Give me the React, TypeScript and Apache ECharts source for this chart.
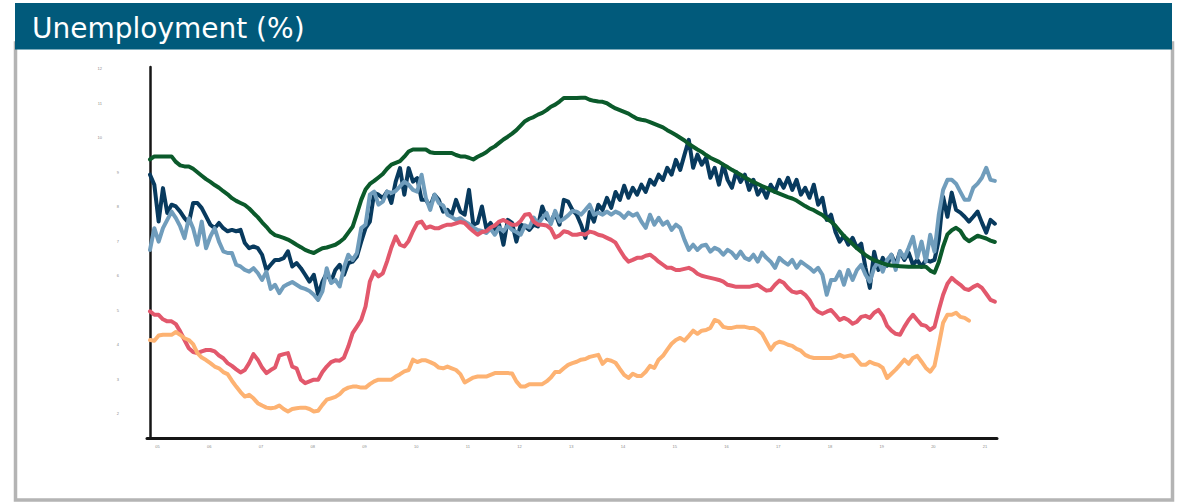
import React, { useEffect, useRef } from "react";
import * as echarts from "echarts";

const TITLE = "Unemployment (%)";
const START_YEAR = 2005;
const Y_TICKS = [2, 3, 4, 5, 6, 7, 8, 9, 10, 11, 12];
const X_TICK_MONTHS = [0, 12, 24, 36, 48, 60, 72, 84, 96, 108, 120, 132, 144, 156, 168, 180, 192];

const navy = [
  8.93, 8.64, 7.57, 8.54, 7.82, 8.06, 8.01, 7.86, 7.67, 7.53,
  8.11, 8.11, 7.96, 7.72, 7.48, 7.38, 7.53, 7.38, 7.29, 7.33,
  7.29, 7.33, 6.95, 6.80, 6.85, 6.80, 6.61, 6.17, 6.32, 6.46,
  6.46, 6.51, 6.71, 6.27, 6.37, 6.22, 6.03, 5.83, 6.03, 5.45,
  5.83, 6.08, 5.83, 6.17, 6.32, 6.03, 6.37, 6.41, 6.56, 6.99,
  7.38, 7.57, 8.40, 8.35, 8.25, 8.44, 8.11, 8.73, 9.12, 8.35,
  9.12, 8.73, 8.83, 8.20, 8.20, 8.01, 8.35, 8.20, 7.86, 7.91,
  7.77, 8.20, 7.86, 7.77, 8.49, 7.48, 7.53, 8.01, 7.38, 7.53,
  7.29, 7.48, 6.90, 7.62, 7.53, 6.99, 7.48, 7.43, 7.33, 7.48,
  7.43, 8.01, 7.67, 7.57, 7.82, 7.48, 8.20, 8.15, 7.91,
  7.77, 7.48, 7.10, 7.85, 7.57, 8.06, 7.91, 8.26, 7.97, 8.43,
  8.20, 8.61, 8.26, 8.55, 8.35, 8.64, 8.43, 8.78, 8.64, 8.93,
  8.78, 9.13, 8.93, 9.36, 9.07, 9.51, 9.94, 9.13, 9.51, 9.22,
  9.42, 8.84, 9.13, 8.64, 9.22, 8.78, 8.55, 9.01, 8.72, 8.93,
  8.49, 8.78, 8.35, 8.55, 8.26, 8.64, 8.43, 8.78, 8.55, 8.84,
  8.49, 8.78, 8.35, 8.55, 8.26, 8.64, 8.06, 8.26, 7.62, 7.77,
  7.28, 6.99, 7.16, 6.90, 7.10, 6.81, 6.93, 6.23, 5.65, 6.70,
  6.17, 6.52, 6.29, 6.61, 6.32, 6.70, 6.46, 6.67, 6.32, 6.46,
  6.26, 6.46, 6.41, 6.46, 7.04, 8.29, 7.71, 8.41, 7.91, 7.83,
  7.71, 7.57, 7.71, 7.86, 7.54, 7.25, 7.62, 7.51,
];

const lightBlue = [
  6.75, 7.38, 6.99, 7.38, 7.62, 7.86, 7.67, 7.43, 7.09, 7.67,
  7.38, 6.90, 7.57, 6.80, 7.14, 7.38, 6.99, 6.71, 6.66, 6.66,
  6.32, 6.27, 6.17, 6.12, 6.22, 6.08, 5.88, 6.12, 5.62, 5.74,
  5.50, 5.69, 5.76, 5.82, 5.74, 5.66, 5.62, 5.56, 5.45, 5.30,
  5.55, 6.22, 5.79, 5.88, 5.69, 6.24, 6.61, 6.46, 6.66, 7.38,
  7.48, 8.35, 8.44, 8.06, 8.15, 8.44, 8.40, 8.46, 8.59, 8.73,
  8.64, 8.49, 8.44, 8.93, 8.25, 7.91, 8.35, 8.11, 8.04, 7.77,
  7.70, 7.62, 7.67, 7.57, 7.50, 7.40, 7.33, 7.30, 7.24, 7.36,
  7.19, 7.40, 7.29, 7.46, 7.33, 7.27, 7.19, 7.46, 7.40, 7.69,
  7.50, 7.67, 7.82, 7.50, 7.88, 7.57, 7.65, 7.75, 7.88,
  7.86, 7.77, 7.91, 8.06, 7.77, 7.83, 7.77, 7.86, 7.77, 7.86,
  7.80, 7.68, 7.83, 7.74, 7.80, 7.57, 7.39, 7.77, 7.48, 7.68,
  7.48, 7.57, 7.33, 7.48, 7.39, 7.04, 6.75, 6.90, 6.75, 6.87,
  6.90, 6.70, 6.81, 6.75, 6.61, 6.75, 6.67, 6.52, 6.70, 6.52,
  6.46, 6.61, 6.41, 6.67, 6.52, 6.41, 6.23, 6.52, 6.41, 6.32,
  6.46, 6.23, 6.41, 6.32, 6.23, 6.12, 6.23, 6.03, 5.45, 5.88,
  5.88, 6.12, 5.74, 6.17, 5.88, 6.17, 6.32, 6.03, 5.83, 6.23,
  6.41, 6.12, 6.46, 6.61, 6.17, 6.72, 6.52, 6.81, 7.13, 6.52,
  6.99, 6.41, 7.19, 6.70, 7.77, 8.49, 8.78, 8.78, 8.67, 8.43,
  8.20, 8.20, 8.55, 8.67, 8.84, 9.13, 8.78, 8.75,
];

const green = [
  9.37, 9.46, 9.46, 9.46, 9.46, 9.46, 9.30, 9.20, 9.17, 9.17,
  9.10, 9.00, 8.90, 8.80, 8.72, 8.63, 8.55, 8.45, 8.36, 8.25,
  8.17, 8.11, 8.05, 7.95, 7.82, 7.70, 7.55, 7.42, 7.27, 7.18,
  7.14, 7.10, 7.05, 6.98, 6.90, 6.83, 6.75, 6.70, 6.66, 6.73,
  6.80, 6.82, 6.86, 6.90, 6.98, 7.08, 7.25, 7.42, 7.80, 8.20,
  8.50, 8.66, 8.75, 8.85, 8.95, 9.10, 9.22, 9.27, 9.32, 9.45,
  9.60, 9.66, 9.66, 9.66, 9.66, 9.58, 9.56, 9.56, 9.56, 9.56,
  9.56, 9.50, 9.46, 9.46, 9.42, 9.37, 9.45, 9.51, 9.58, 9.68,
  9.75, 9.85, 9.95, 10.03, 10.12, 10.22, 10.35, 10.48, 10.55, 10.60,
  10.67, 10.72, 10.80, 10.90, 10.96, 11.05, 11.15, 11.15, 11.15,
  11.15, 11.16, 11.16, 11.10, 11.07, 11.05, 11.04, 11.00, 10.92, 10.85,
  10.80, 10.75, 10.70, 10.62, 10.55, 10.52, 10.50, 10.45, 10.40, 10.35,
  10.30, 10.22, 10.15, 10.08, 10.00, 9.92, 9.82, 9.74, 9.66, 9.59,
  9.50, 9.42, 9.36, 9.30, 9.22, 9.15, 9.07, 9.00, 8.93, 8.85,
  8.78, 8.72, 8.66, 8.60, 8.55, 8.49, 8.43, 8.38, 8.33, 8.28,
  8.24, 8.18, 8.10, 8.02, 7.95, 7.90, 7.83, 7.76, 7.65, 7.57,
  7.45, 7.30, 7.15, 7.04, 6.92, 6.80, 6.70, 6.60, 6.52, 6.45,
  6.41, 6.36, 6.32, 6.30, 6.29, 6.28, 6.27, 6.26, 6.26, 6.26,
  6.26, 6.26, 6.15, 6.09, 6.40, 6.85, 7.20, 7.32, 7.39, 7.30,
  7.10, 7.00, 7.08, 7.16, 7.12, 7.08, 7.02, 6.98,
];

const red = [
  4.97, 4.87, 4.87, 4.74, 4.68, 4.68, 4.60, 4.39, 4.14, 3.90,
  3.79, 3.76, 3.81, 3.85, 3.85, 3.81, 3.69, 3.61, 3.47, 3.39,
  3.29, 3.20, 3.27, 3.47, 3.73, 3.57, 3.34, 3.18, 3.27, 3.34,
  3.69, 3.73, 3.76, 3.37, 3.32, 2.99, 2.89, 2.94, 2.99, 2.99,
  3.21, 3.37, 3.50, 3.55, 3.54, 3.63, 3.95, 4.34, 4.53, 4.72,
  5.11, 5.83, 6.12, 5.98, 6.07, 6.42, 6.82, 7.14, 6.90, 6.85,
  7.01, 7.29, 7.53, 7.57, 7.38, 7.43, 7.38, 7.38, 7.44, 7.48,
  7.48, 7.52, 7.56, 7.53, 7.40, 7.29, 7.19, 7.27, 7.29, 7.40,
  7.46, 7.57, 7.62, 7.55, 7.48, 7.48, 7.59, 7.77, 7.79, 7.57,
  7.48, 7.48, 7.46, 7.36, 7.11, 7.17, 7.29, 7.26, 7.19,
  7.19, 7.22, 7.19, 7.28, 7.25, 7.19, 7.16, 7.10, 7.04, 6.96,
  6.75, 6.55, 6.41, 6.46, 6.52, 6.52, 6.58, 6.61, 6.52, 6.41,
  6.32, 6.23, 6.23, 6.17, 6.17, 6.20, 6.23, 6.17, 6.06, 6.00,
  5.97, 5.94, 5.91, 5.88, 5.83, 5.74, 5.71, 5.68, 5.68, 5.68,
  5.68, 5.71, 5.74, 5.65, 5.57, 5.59, 5.74, 5.86, 5.80, 5.65,
  5.54, 5.51, 5.54, 5.45, 5.30, 5.07, 4.96, 4.90, 4.96, 5.01,
  4.87, 4.72, 4.78, 4.72, 4.61, 4.67, 4.81, 4.84, 4.78, 4.93,
  5.01, 4.84, 4.55, 4.41, 4.32, 4.29, 4.52, 4.72, 4.87, 4.72,
  4.58, 4.55, 4.43, 4.52, 5.01, 5.45, 5.77, 5.94, 5.83, 5.74,
  5.62, 5.59, 5.68, 5.74, 5.65, 5.48, 5.30, 5.25,
];

const orange = [
  4.14, 4.12, 4.27, 4.29, 4.29, 4.29, 4.37, 4.29, 4.19, 4.14,
  4.02, 3.76, 3.63, 3.56, 3.47, 3.37, 3.32, 3.21, 3.15, 2.96,
  2.79, 2.63, 2.50, 2.55, 2.45, 2.31, 2.24, 2.18, 2.16, 2.18,
  2.24, 2.14, 2.07, 2.14, 2.16, 2.18, 2.18, 2.14, 2.07, 2.09,
  2.26, 2.41, 2.45, 2.49, 2.57, 2.70, 2.76, 2.79, 2.79, 2.76,
  2.76, 2.86, 2.94, 2.99, 2.99, 2.99, 2.99, 3.08, 3.15, 3.23,
  3.27, 3.57, 3.50, 3.55, 3.55, 3.50, 3.44, 3.34, 3.32, 3.37,
  3.32, 3.27, 3.15, 2.91, 2.98, 3.05, 3.08, 3.08, 3.08, 3.13,
  3.18, 3.18, 3.18, 3.18, 3.17, 2.94, 2.79, 2.79, 2.86, 2.86,
  2.86, 2.86, 2.94, 3.05, 3.21, 3.21, 3.32, 3.42, 3.47,
  3.51, 3.57, 3.59, 3.65, 3.68, 3.71, 3.45, 3.57, 3.54, 3.48,
  3.30, 3.13, 3.04, 3.16, 3.10, 3.10, 3.22, 3.39, 3.33, 3.57,
  3.68, 3.86, 4.03, 4.14, 4.20, 4.12, 4.26, 4.41, 4.32, 4.41,
  4.43, 4.49, 4.72, 4.67, 4.52, 4.49, 4.49, 4.52, 4.52, 4.52,
  4.49, 4.49, 4.43, 4.32, 4.09, 3.86, 4.03, 4.09, 4.06, 4.00,
  3.97, 3.88, 3.83, 3.71, 3.65, 3.62, 3.62, 3.62, 3.62, 3.62,
  3.65, 3.71, 3.65, 3.68, 3.71, 3.57, 3.42, 3.42, 3.51, 3.45,
  3.42, 3.33, 3.04, 3.16, 3.28, 3.42, 3.57, 3.45, 3.62, 3.68,
  3.51, 3.33, 3.22, 3.39, 4.00, 4.64, 4.87, 4.87, 4.93, 4.81,
  4.78, 4.70,
];

const SERIES = [
  { name: "Series A", data: navy, color: "#083a5e" },
  { name: "Series B", data: lightBlue, color: "#709dbc" },
  { name: "Series C", data: green, color: "#0b5a2b" },
  { name: "Series D", data: red, color: "#e2586c" },
  { name: "Series E", data: orange, color: "#fdb272" },
];

const LABEL_GREY = "#8a8a8a";

export default function App() {
  const ref = useRef<HTMLDivElement>(null);

  useEffect(() => {
    if (!ref.current) return;
    const chart = echarts.init(ref.current, undefined, { renderer: "svg" });
    chart.setOption({
      animation: false,
      backgroundColor: "#ffffff",
      graphic: [
        {
          type: "rect",
          z: 0,
          shape: { x: 15.5, y: 43, width: 1157, height: 457 },
          style: { fill: "#ffffff", stroke: "#b4b4b4", lineWidth: 3.5 },
        },
        {
          type: "rect",
          z: 1,
          shape: { x: 15, y: 3, width: 1157, height: 46.5 },
          style: { fill: "#015a7b" },
        },
        {
          type: "text",
          z: 2,
          x: 32,
          y: 28,
          style: {
            text: TITLE,
            fill: "#ffffff",
            font: "normal 28px 'DejaVu Sans', sans-serif",
            verticalAlign: "middle",
          },
        },
      ],
      grid: { left: 147, right: 189, top: 67, bottom: 64 },
      xAxis: {
        type: "value",
        min: -0.7,
        max: 196.5,
        splitLine: { show: false },
        axisTick: { show: false },
        axisLine: { show: true, lineStyle: { color: "#161616", width: 3 } },
        axisLabel: {
          customValues: X_TICK_MONTHS,
          margin: 6,
          color: LABEL_GREY,
          fontSize: 4,
          formatter: (v: number) => {
            const y = START_YEAR + Math.round(v / 12);
            return "{yr|" + String(y % 100).padStart(2, "0") + "}";
          },
          rich: {
            yr: { fontSize: 4, color: LABEL_GREY, padding: [0, 0, 0, 15] },
          },
        },
      },
      yAxis: {
        type: "value",
        min: 1.3,
        max: 12.05,
        splitLine: { show: false },
        axisTick: { show: false },
        axisLine: { show: true, lineStyle: { color: "#161616", width: 2.5 } },
        axisLabel: {
          customValues: Y_TICKS,
          margin: 28,
          color: LABEL_GREY,
          fontSize: 4,
          formatter: (v: number) => (v >= 10 ? "{hi|" + v + "}" : "{lo|" + v + "}"),
          rich: {
            lo: { fontSize: 4, color: LABEL_GREY },
            hi: { fontSize: 4, color: LABEL_GREY, padding: [0, 17, 0, 0] },
          },
        },
      },
      series: SERIES.map((s) => ({
        name: s.name,
        type: "line",
        showSymbol: false,
        symbol: "none",
        data: s.data.map((v, i) => [i, v]),
        lineStyle: { color: s.color, width: 4, cap: "round", join: "round" },
        itemStyle: { color: s.color },
        emphasis: { disabled: true },
      })),
    });
    return () => chart.dispose();
  }, []);

  return (
    <div
      ref={ref}
      style={{ position: "fixed", left: 0, top: 0, width: 1186, height: 502 }}
    />
  );
}
